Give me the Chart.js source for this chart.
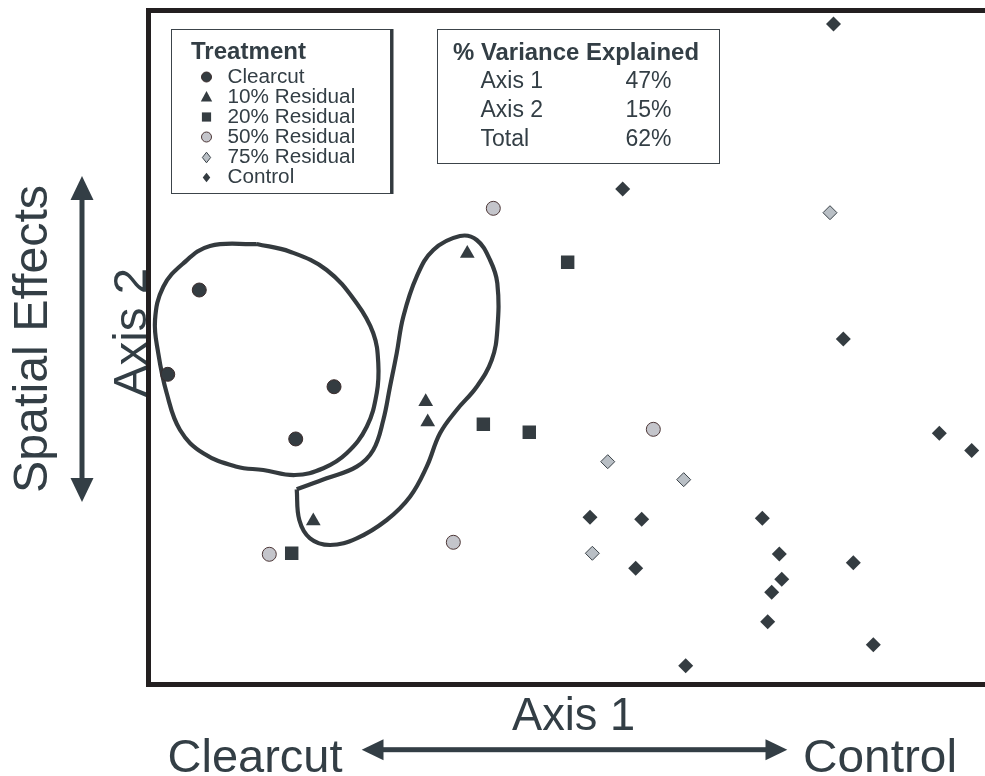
<!DOCTYPE html>
<html>
<head>
<meta charset="utf-8">
<title>Ordination of harvest treatments</title>
<script src="https://cdn.jsdelivr.net/npm/chart.js@4.4.1/dist/chart.umd.min.js"></script>
<style>
  html, body { margin: 0; padding: 0; background: #ffffff; overflow: hidden; }
  #wrap { position: relative; width: 985px; height: 776px; }
</style>
</head>
<body>
<div id="wrap"><canvas id="ord" width="985" height="776"></canvas></div>
<script>
// ---- Ordination scores (Axis 1 = x, Axis 2 = y, scaled 0-100) ----
const treatments = ['Clearcut', '10% Residual', '20% Residual', '50% Residual', '75% Residual', 'Control'];

const clearcutX = [6.07, 2.30, 22.18, 17.60];
const clearcutY = [58.53, 46.02, 44.18, 36.43];

const res10X = [38.11, 33.14, 33.38, 19.70];
const res10Y = [63.95, 41.96, 38.95, 24.26];

const res20X = [17.12, 40.03, 45.52, 50.11];
const res20Y = [19.47, 38.61, 37.42, 62.64];

const res50X = [14.44, 36.44, 41.22, 60.35];
const res50Y = [19.32, 21.10, 70.65, 37.86];

const res75X = [81.47, 54.90, 63.98, 53.06];
const res75Y = [70.00, 33.06, 30.39, 19.47];

const controlX = [81.89, 56.69, 83.06, 94.54, 98.41, 52.78, 58.96, 73.38, 75.41, 84.26, 58.24, 75.70, 74.50, 74.02, 86.65, 64.22];
const controlY = [98.00, 73.52, 51.26, 37.27, 34.72, 24.81, 24.51, 24.66, 19.36, 18.07, 17.24, 15.61, 13.68, 9.32, 5.91, 2.79];

// Hand-drawn group outlines (closed curves, same units)
const clearcutHullX = [12.94, 16.92, 21.30, 24.89, 26.87, 27.47, 27.28, 26.09, 23.69, 20.90, 17.51, 13.72, 10.54, 6.55, 3.77, 2.18, 1.17, 0.78, 1.77, 4.16, 7.35, 12.94];
const clearcutHullY = [65.36, 64.22, 61.50, 56.56, 52.11, 47.66, 43.21, 38.25, 34.30, 32.08, 31.08, 31.83, 32.32, 34.30, 37.76, 43.21, 49.14, 54.08, 59.02, 62.49, 65.06, 65.36];

// starts and ends at the sharp notch on the lower-left lobe
const res10HullX = [17.72, 21.30, 24.89, 26.87, 28.07, 28.87, 29.67, 30.46, 32.06, 34.05, 37.24, 39.24, 40.83, 41.70, 41.70, 41.03, 39.24, 36.84, 34.85, 33.26, 31.26, 28.48, 24.89, 21.70, 19.31, 18.03, 17.72];
const res10HullY = [28.96, 30.59, 32.32, 34.79, 39.24, 44.18, 49.14, 54.57, 60.51, 64.47, 66.54, 65.95, 62.98, 59.53, 52.60, 48.15, 44.18, 40.73, 37.27, 32.32, 27.86, 24.41, 21.69, 20.70, 21.69, 24.41, 28.96];

// Variance explained by each axis
const varianceAxes = ['Axis 1', 'Axis 2', 'Total'];
const variancePct = [47, 15, 62];

// ---- Styling ----
const INK = '#333e45';
const MARK = '#343c41';
const FRAME = '#231f20';
const FONT = '"Liberation Sans", Arial, Helvetica, sans-serif';

function pts(xs, ys) { return xs.map((x, i) => ({ x: x, y: ys[i] })); }

function markerSet(label, xs, ys, style) {
  return Object.assign({
    label: label,
    treatment: true,
    data: pts(xs, ys),
    showLine: false,
    borderWidth: 0,
    borderColor: MARK,
    backgroundColor: MARK
  }, style);
}

function hullSet(xs, ys) {
  return {
    label: 'outline',
    data: pts(xs, ys),
    showLine: true,
    fill: false,
    tension: 0.4,
    pointRadius: 0,
    borderColor: '#343a3e',
    borderWidth: 4.2,
    borderJoinStyle: 'round'
  };
}

const datasets = [
  markerSet(treatments[0], clearcutX, clearcutY, { pointStyle: 'circle', pointRadius: 7, borderWidth: 1, borderColor: '#3b2c2c' }),
  markerSet(treatments[1], res10X, res10Y, { pointStyle: 'triangle', pointRadius: 8.5 }),
  markerSet(treatments[2], res20X, res20Y, { pointStyle: 'rect', pointRadius: 9.5 }),
  markerSet(treatments[3], res50X, res50Y, { pointStyle: 'circle', pointRadius: 7, backgroundColor: '#c4c5cb', borderColor: '#4d3737', borderWidth: 1 }),
  markerSet(treatments[4], res75X, res75Y, { pointStyle: 'rectRot', pointRadius: 7, backgroundColor: '#b9bfc5', borderColor: '#3a4248', borderWidth: 1 }),
  markerSet(treatments[5], controlX, controlY, { pointStyle: 'rectRot', pointRadius: 7.5 }),
  hullSet(clearcutHullX, clearcutHullY),
  hullSet(res10HullX, res10HullY)
];

// Text drawn with a horizontal stretch so it spans a given width
function fitText(ctx, text, x, y, width) {
  const w = ctx.measureText(text).width;
  ctx.save();
  ctx.translate(x, y);
  ctx.scale(width / w, 1);
  ctx.fillText(text, 0, 0);
  ctx.restore();
}

// Small legend marker
function drawMarker(ctx, style, size, x, y) {
  ctx.beginPath();
  if (style === 'circle') {
    ctx.arc(x, y, size, 0, Math.PI * 2);
  } else if (style === 'triangle') {
    ctx.moveTo(x, y - size);
    ctx.lineTo(x + size * 0.95, y + size * 0.75);
    ctx.lineTo(x - size * 0.95, y + size * 0.75);
    ctx.closePath();
  } else if (style === 'rect') {
    ctx.rect(x - size, y - size, size * 2, size * 2);
  } else if (style === 'rectRot') {
    ctx.moveTo(x, y - size * 1.15);
    ctx.lineTo(x + size * 0.9, y);
    ctx.lineTo(x, y + size * 1.15);
    ctx.lineTo(x - size * 0.9, y);
    ctx.closePath();
  }
  ctx.fill();
}

const legendSizes = [5, 6, 4.6, 5, 4.6, 4.2];

const decorations = {
  id: 'decorations',
  afterDraw(chart) {
    const ctx = chart.ctx;
    const area = chart.chartArea;
    ctx.save();

    // ---- Treatment legend ----
    ctx.fillStyle = '#ffffff';
    ctx.fillRect(171.5, 29.5, 219, 164);
    ctx.strokeStyle = '#3c444a';
    ctx.lineWidth = 1;
    ctx.strokeRect(171.5, 29.5, 219, 164);
    ctx.fillStyle = '#333a3f';
    ctx.fillRect(390.5, 29, 3, 165);

    ctx.fillStyle = INK;
    ctx.textBaseline = 'middle';
    ctx.textAlign = 'left';
    ctx.font = 'bold 23px ' + FONT;
    fitText(ctx, 'Treatment', 191, 52.5, 115);

    ctx.font = '20px ' + FONT;
    const rowsY = [77, 97, 117, 137, 157.5, 177.5];
    let row = 0;
    chart.data.datasets.forEach((ds) => {
      if (!ds.treatment) return;
      const y = rowsY[row];
      ctx.fillStyle = ds.backgroundColor;
      drawMarker(ctx, ds.pointStyle, legendSizes[row], 206.5, y);
      if (ds.borderWidth > 0) {
        ctx.strokeStyle = ds.borderColor;
        ctx.lineWidth = 1;
        ctx.stroke();
      }
      ctx.fillStyle = INK;
      const w = ctx.measureText(ds.label).width * 1.035;
      fitText(ctx, ds.label, 227.5, y, w);
      row++;
    });

    // ---- Variance box ----
    ctx.fillStyle = '#ffffff';
    ctx.fillRect(437.5, 29.5, 282, 134);
    ctx.strokeStyle = '#3c444a';
    ctx.lineWidth = 1;
    ctx.strokeRect(437.5, 29.5, 282, 134);

    ctx.fillStyle = INK;
    ctx.font = 'bold 23px ' + FONT;
    ctx.textAlign = 'left';
    fitText(ctx, '% Variance Explained', 453, 53.5, 246);
    ctx.font = '23px ' + FONT;
    const vRows = [82, 111, 140];
    varianceAxes.forEach((lab, i) => {
      ctx.textAlign = 'left';
      ctx.fillText(lab, 480.5, vRows[i]);
      ctx.textAlign = 'right';
      ctx.fillText(variancePct[i] + '%', 671.5, vRows[i]);
    });

    // ---- Axis titles ----
    ctx.fillStyle = INK;
    ctx.textBaseline = 'alphabetic';
    ctx.font = '47px ' + FONT;
    ctx.textAlign = 'center';
    fitText(ctx, 'Axis 1', 573.5, 730, 123);
    ctx.textAlign = 'left';
    fitText(ctx, 'Clearcut', 167.5, 771.5, 175);
    fitText(ctx, 'Control', 803, 771.5, 154);

    ctx.save();
    ctx.translate(146, 332.5);
    ctx.rotate(-Math.PI / 2);
    ctx.textAlign = 'center';
    fitText(ctx, 'Axis 2', 0, 0, 129);
    ctx.restore();

    ctx.save();
    ctx.translate(46.5, 339);
    ctx.rotate(-Math.PI / 2);
    ctx.textAlign = 'center';
    ctx.font = '48px ' + FONT;
    fitText(ctx, 'Spatial Effects', 0, 0, 308);
    ctx.restore();

    // double-headed arrows
    ctx.fillStyle = INK;
    // vertical
    ctx.fillRect(79.5, 198, 5, 282);
    ctx.beginPath();
    ctx.moveTo(82, 176); ctx.lineTo(93.5, 200); ctx.lineTo(70.5, 200); ctx.closePath(); ctx.fill();
    ctx.beginPath();
    ctx.moveTo(82, 502); ctx.lineTo(93.5, 478); ctx.lineTo(70.5, 478); ctx.closePath(); ctx.fill();
    // horizontal
    ctx.fillRect(382, 747.2, 385, 5);
    ctx.beginPath();
    ctx.moveTo(361.7, 749.7); ctx.lineTo(383.5, 739.2); ctx.lineTo(383.5, 760.2); ctx.closePath(); ctx.fill();
    ctx.beginPath();
    ctx.moveTo(787.3, 749.7); ctx.lineTo(765.5, 739.2); ctx.lineTo(765.5, 760.2); ctx.closePath(); ctx.fill();

    // plot frame (open on the right), drawn over the axis title
    ctx.fillStyle = FRAME;
    ctx.fillRect(area.left - 2.5, area.top - 2.5, chart.width - area.left + 2.5, 5);
    ctx.fillRect(area.left - 2.5, area.bottom - 2.5, chart.width - area.left + 2.5, 5);
    ctx.fillRect(area.left - 2.5, area.top - 2.5, 5, area.bottom - area.top + 5);

    ctx.restore();
  }
};

new Chart(document.getElementById('ord'), {
  type: 'scatter',
  data: { datasets: datasets },
  options: {
    responsive: false,
    animation: false,
    events: [],
    layout: { autoPadding: false, padding: { left: 148.5, top: 10.5, right: 0, bottom: 91.5 } },
    scales: {
      x: { type: 'linear', min: 0, max: 100, display: false },
      y: { type: 'linear', min: 0, max: 100, display: false }
    },
    plugins: {
      legend: { display: false },
      tooltip: { enabled: false }
    }
  },
  plugins: [decorations]
});
</script>
</body>
</html>
